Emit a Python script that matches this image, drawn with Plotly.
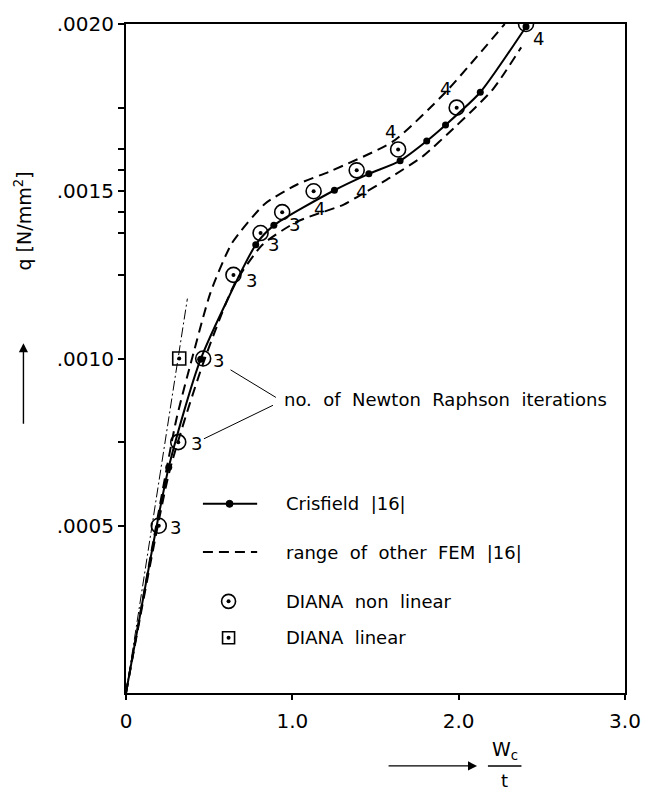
import plotly.graph_objects as go

# ---------------- data ----------------
crisfield_x = [0.0, 0.257, 0.449, 0.78, 0.889, 1.253, 1.46, 1.648, 1.808, 1.921, 2.13, 2.405]
crisfield_q = [0.0, 0.000675, 0.000998, 0.00134, 0.001398, 0.001503, 0.001552, 0.001591, 0.00165, 0.001698, 0.001796, 0.001992]

upper_x = [0.0, 0.301, 0.395, 0.508, 0.636, 0.834, 1.032, 1.229, 1.605, 1.921, 2.277]
upper_q = [0.0, 0.000814, 0.000996, 0.001197, 0.001344, 0.001462, 0.001521, 0.00156, 0.001649, 0.001796, 0.002]

lower_x = [0.0, 0.26, 0.46, 0.65, 0.82, 1.032, 1.309, 1.387, 1.585, 1.783, 1.98, 2.079, 2.198, 2.257, 2.376]
lower_q = [0.0, 0.00066, 0.00098, 0.00122, 0.00134, 0.00141, 0.00146, 0.001482, 0.00154, 0.001604, 0.001693, 0.00174, 0.0018, 0.00184, 0.00193]

diana_x = [0.197, 0.314, 0.464, 0.646, 0.809, 0.939, 1.128, 1.387, 1.636, 1.988, 2.405]
diana_q = [0.0005, 0.00075, 0.001, 0.00125, 0.001375, 0.0014375, 0.0015, 0.0015625, 0.001625, 0.00175, 0.002]
diana_iter = ["3", "3", "3", "3", "3", "3", "4", "4", "4", "4", "4"]

diana_lin_x = [0.32]
diana_lin_q = [0.001]

linear_x = [0.0, 0.369]
linear_q = [0.0, 0.001179]

x_tickvals = [0, 1, 2, 3]
x_ticktext = ["0", "1.0", "2.0", "3.0"]
y_major = {0.0005: ".0005", 0.001: ".0010", 0.0015: ".0015", 0.002: ".0020"}

# ---------------- layout helpers ----------------
W, H = 653, 794
L, R, T, B = 126, 21, 14, 101
PW, PH = W - L - R, H - T - B
FONT = "DejaVu Sans"


def px(xp):
    return (xp - L) / PW


def py(yp):
    return (H - B - yp) / PH


def dx(xp):
    return (xp - L) / PW * 3.0


def dy(yp):
    return (H - B - yp) / PH * 0.002


fig = go.Figure()

dash = "10px,6px"
fig.add_trace(go.Scatter(x=upper_x, y=upper_q, mode="lines",
                         line=dict(color="black", width=2, dash=dash, shape="spline", smoothing=0.6)))
fig.add_trace(go.Scatter(x=lower_x, y=lower_q, mode="lines",
                         line=dict(color="black", width=2, dash=dash, shape="spline", smoothing=0.6)))
fig.add_trace(go.Scatter(x=linear_x, y=linear_q, mode="lines",
                         line=dict(color="black", width=1, dash="10px,3px,2px,3px")))
fig.add_trace(go.Scatter(x=crisfield_x, y=crisfield_q, mode="lines",
                         line=dict(color="black", width=2, shape="spline", smoothing=0.6)))
fig.add_trace(go.Scatter(x=crisfield_x[1:], y=crisfield_q[1:], mode="markers",
                         marker=dict(color="black", size=7)))
fig.add_trace(go.Scatter(x=diana_x, y=diana_q, mode="markers",
                         marker=dict(symbol="circle-open", size=15, color="black", line=dict(width=1.6))))
fig.add_trace(go.Scatter(x=diana_x, y=diana_q, mode="markers",
                         marker=dict(symbol="circle", size=4, color="black")))
fig.add_trace(go.Scatter(x=diana_lin_x, y=diana_lin_q, mode="markers",
                         marker=dict(symbol="square-open", size=13, color="black", line=dict(width=1.6))))
fig.add_trace(go.Scatter(x=diana_lin_x, y=diana_lin_q, mode="markers",
                         marker=dict(symbol="circle", size=4, color="black")))

annotations = []
shapes = []

# iteration counts next to the DIANA points (pixel offsets)
offsets = [(17, -2), (18, -1), (15, -2), (18, -6), (13, -11), (12, -12),
           (6, -17), (5, -21), (-8, 18), (-11, 19), (12, -14)]
for xv, qv, t, (ox, oy) in zip(diana_x, diana_q, diana_iter, offsets):
    annotations.append(dict(x=xv, y=qv, text=t, showarrow=False, xshift=ox, yshift=oy,
                            font=dict(family=FONT, size=18, color="black")))

# "no. of Newton Raphson iterations" with leader lines
nb = "\u00a0"
annotations.append(dict(x=dx(284), y=dy(395), xanchor="left", yanchor="middle", showarrow=False,
                        text=f"no.{nb} of{nb} Newton{nb} Raphson{nb} iterations",
                        font=dict(family=FONT, size=18, color="black")))
shapes.append(dict(type="line", xref="x", yref="y", x0=dx(232), y0=dy(365), x1=dx(278), y1=dy(393),
                   line=dict(color="black", width=1)))
shapes.append(dict(type="line", xref="x", yref="y", x0=dx(205), y0=dy(435), x1=dx(275), y1=dy(401),
                   line=dict(color="black", width=1)))

# legend (drawn by hand)
leg_rows = [501, 550, 600, 637]
leg_text = [f"Crisfield{nb} |16|", f"range{nb} of{nb} other{nb} FEM{nb} |16|",
            f"DIANA{nb} non{nb} linear", f"DIANA{nb} linear"]
for yr, t in zip(leg_rows, leg_text):
    annotations.append(dict(xref="paper", yref="paper", x=px(286), y=py(yr), xanchor="left",
                            yanchor="middle", text=t, showarrow=False,
                            font=dict(family=FONT, size=18, color="black")))
shapes.append(dict(type="line", xref="paper", yref="paper", x0=px(204), x1=px(259),
                   y0=py(leg_rows[0]), y1=py(leg_rows[0]), line=dict(color="black", width=2)))
shapes.append(dict(type="circle", xref="paper", yref="paper", xsizemode="pixel", ysizemode="pixel",
                   xanchor=px(231), yanchor=py(leg_rows[0]), x0=-3.5, x1=3.5, y0=-3.5, y1=3.5,
                   fillcolor="black", line=dict(color="black", width=1)))
shapes.append(dict(type="line", xref="paper", yref="paper", x0=px(204), x1=px(259),
                   y0=py(leg_rows[1]), y1=py(leg_rows[1]), line=dict(color="black", width=2, dash=dash)))
shapes.append(dict(type="circle", xref="paper", yref="paper", xsizemode="pixel", ysizemode="pixel",
                   xanchor=px(230), yanchor=py(leg_rows[2]), x0=-7, x1=7, y0=-7, y1=7,
                   line=dict(color="black", width=1.6)))
shapes.append(dict(type="rect", xref="paper", yref="paper", xsizemode="pixel", ysizemode="pixel",
                   xanchor=px(230), yanchor=py(leg_rows[3]), x0=-6, x1=6, y0=-6, y1=6,
                   line=dict(color="black", width=1.6)))
for yr in leg_rows[2:]:
    shapes.append(dict(type="circle", xref="paper", yref="paper", xsizemode="pixel", ysizemode="pixel",
                       xanchor=px(230), yanchor=py(yr), x0=-2, x1=2, y0=-2, y1=2,
                       fillcolor="black", line=dict(color="black", width=0)))

# y-axis title with arrow
annotations.append(dict(xref="paper", yref="paper", x=px(22), y=py(214), text="q [N/mm<sup>2</sup>]",
                        textangle=-90, showarrow=False, xanchor="center", yanchor="middle",
                        font=dict(family=FONT, size=19, color="black")))
annotations.append(dict(xref="paper", yref="paper", x=px(22), y=py(338), ax=0, ay=82, text="",
                        showarrow=True, arrowhead=2, arrowsize=1.3, arrowwidth=1.4, arrowcolor="black"))

# x-axis title with arrow
annotations.append(dict(xref="paper", yref="paper", x=px(482), y=py(767), ax=-90, ay=0, text="",
                        showarrow=True, arrowhead=2, arrowsize=1.3, arrowwidth=1.4, arrowcolor="black"))
annotations.append(dict(xref="paper", yref="paper", x=px(510), y=py(751), text="W<sub>c</sub>",
                        showarrow=False, xanchor="center", yanchor="middle",
                        font=dict(family=FONT, size=19, color="black")))
shapes.append(dict(type="line", xref="paper", yref="paper", x0=px(493), x1=px(527),
                   y0=py(767), y1=py(767), line=dict(color="black", width=1.5)))
annotations.append(dict(xref="paper", yref="paper", x=px(510), y=py(782), text="t",
                        showarrow=False, xanchor="center", yanchor="middle",
                        font=dict(family=FONT, size=18, color="black")))

fig.update_layout(
    width=W, height=H,
    margin=dict(l=L, r=R, t=T, b=B),
    paper_bgcolor="white", plot_bgcolor="white",
    showlegend=False,
    font=dict(family=FONT, color="black"),
    annotations=annotations,
    shapes=shapes,
    xaxis=dict(range=[0, 3], tickvals=x_tickvals, ticktext=x_ticktext, showgrid=False, zeroline=False,
               showline=True, mirror=True, linecolor="black", linewidth=2, ticks="outside",
               ticklen=5, tickwidth=1.5, tickcolor="black", tickfont=dict(family=FONT, size=20),
               ticklabelstandoff=4),
    yaxis=dict(range=[0, 0.002], tickvals=diana_q,
               ticktext=[y_major.get(v, "") for v in diana_q], showgrid=False, zeroline=False,
               showline=True, mirror=True, linecolor="black", linewidth=2, ticks="outside",
               ticklen=6, tickwidth=1.5, tickcolor="black", tickfont=dict(family=FONT, size=20)),
)

fig.write_html("out.html", config={"displayModeBar": False},
               post_script="document.body.style.margin='0';document.body.style.overflow='hidden';")
